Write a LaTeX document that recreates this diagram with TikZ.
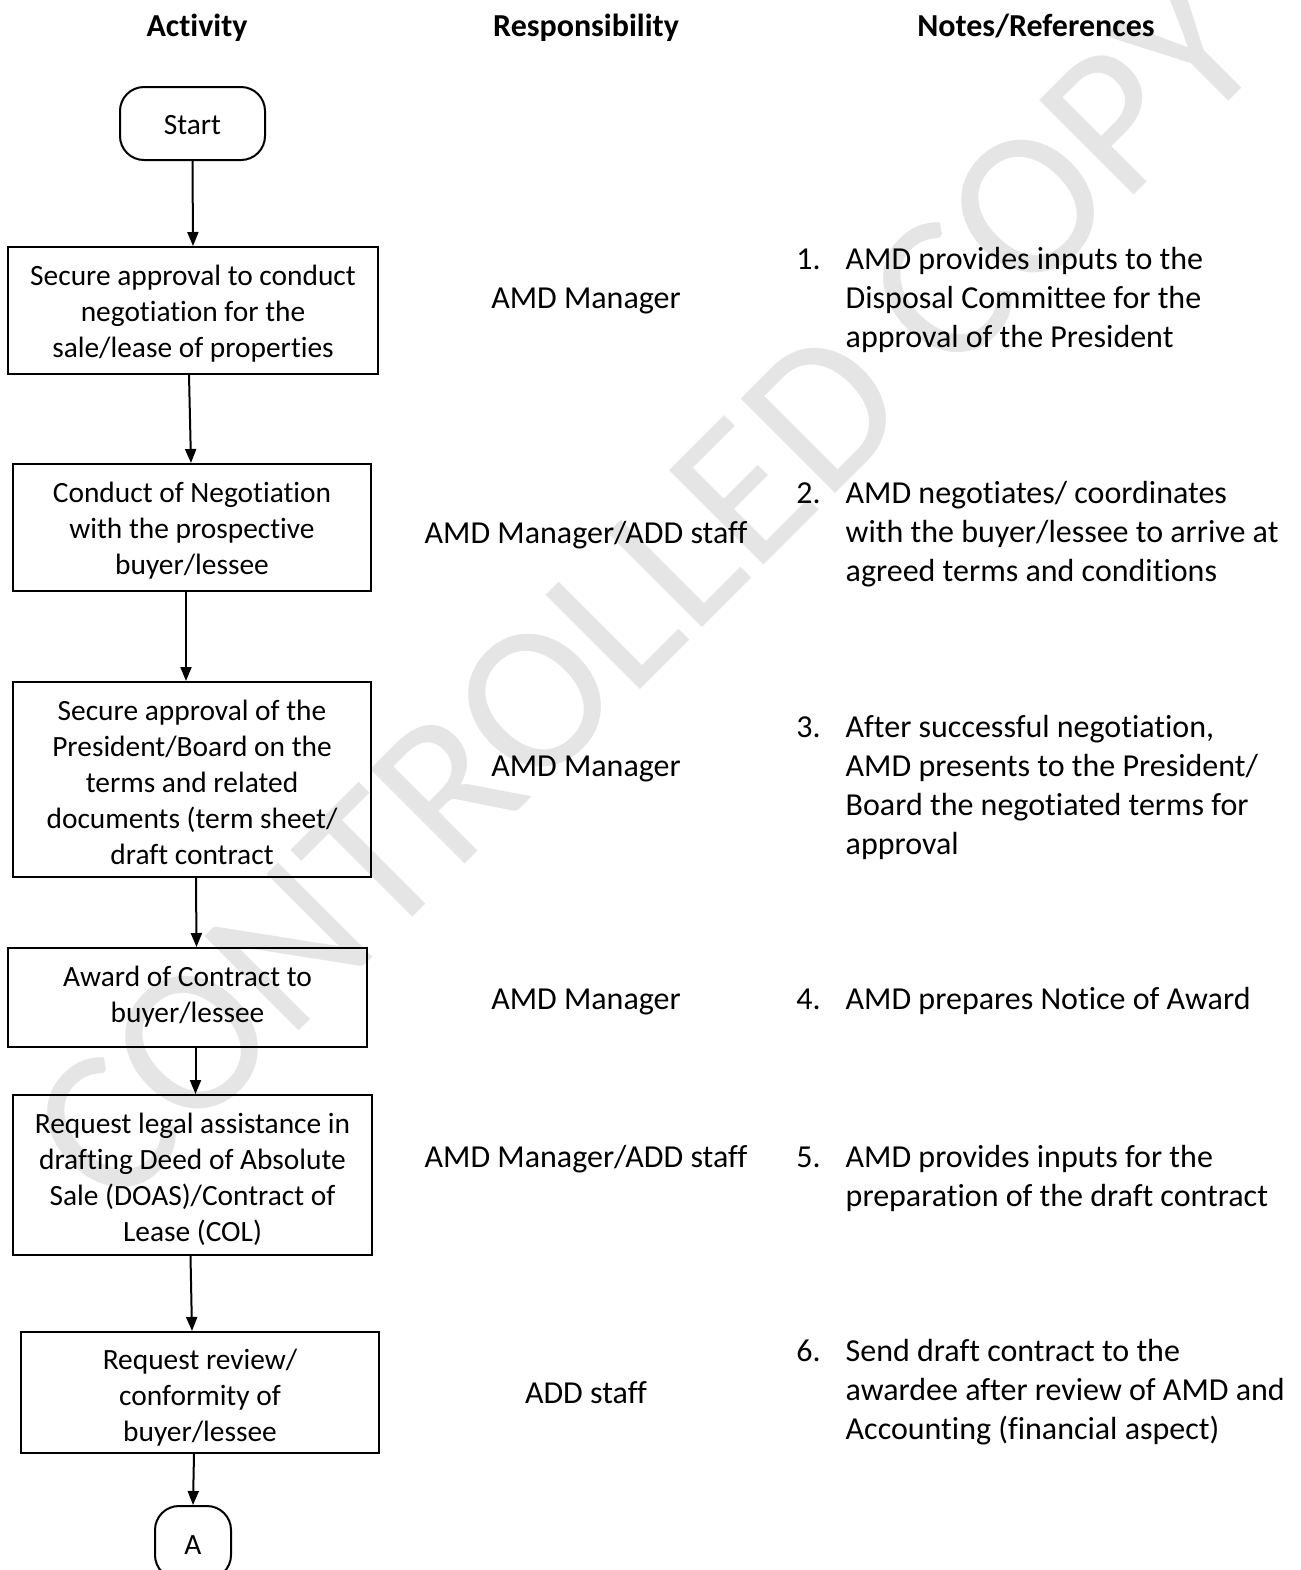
\documentclass[tikz,border=0pt]{standalone}
\usepackage{fontspec}
\setmainfont{Carlito}[Ligatures={NoCommon}]
\usetikzlibrary{arrows.meta}

\newcommand\boxfont{\fontsize{14.7}{18}\selectfont}
\newcommand\colfont{\fontsize{16}{19.5}\selectfont}

\tikzset{
  stepbox/.style={draw, line width=1pt, align=center, inner sep=0pt, font=\boxfont},
  terminal/.style={draw, line width=1pt, rounded corners=12pt, align=center, inner sep=0pt, font=\boxfont},
  flow/.style={line width=1pt, -{Triangle[width=5.5pt,length=7pt]}},
  header/.style={font=\colfont\bfseries, anchor=base},
  resp/.style={font=\colfont},
  note/.style={font=\colfont, anchor=west, inner sep=0pt},
}

% box text: strutted centred lines, lowered by #1 without changing the box size
\newcommand\bx[2][2pt]{\raisebox{-#1}[\height][\depth]{\begin{tabular}{@{}c@{}}#2\end{tabular}}}
% numbered note with hanging lines
\newcommand\notelist[2]{\begin{tabular}{@{}l@{\hspace{12.5pt}}l@{}}#1 & #2\end{tabular}}

\begin{document}
\begin{tikzpicture}[x=0.5pt, y=-0.5pt]
\useasboundingbox (0,0) rectangle (1301,1570);
\clip (0,0) rectangle (1301,1570);
\fill[white] (0,0) rectangle (1301,1570);

% watermark
\node[rotate=45, text=gray!20, font=\fontsize{104}{104}\selectfont, inner sep=0pt] (wm) at (645,590) {CONTROLLED COPY};

% column headings
\node[header] (hact) at (197,36) {Activity};
\node[header] (hresp) at (586,36) {Responsibility};
\node[header] (hnote) at (1036,36) {Notes/References};

% flow chart
\node[terminal, minimum width=72.5pt, minimum height=36.5pt] (start) at (192.5,123.5) {\raisebox{-1pt}[\height][\depth]{Start}};
\node[stepbox, minimum width=185pt, minimum height=63.5pt] (b1) at (193,310.5)
  {\bx[2pt]{Secure approval to conduct\\negotiation for the\\sale/lease of properties}};
\node[stepbox, minimum width=179pt, minimum height=63.5pt] (b2) at (192,527.5)
  {\bx[2pt]{Conduct of Negotiation\\with the prospective\\buyer/lessee}};
\node[stepbox, minimum width=179pt, minimum height=97.5pt] (b3) at (192,779.5)
  {\bx[3pt]{Secure approval of the\\President/Board on the\\terms and related\\documents (term sheet/\\draft contract}};
\node[stepbox, minimum width=179.5pt, minimum height=49.5pt] (b4) at (187.5,997.5)
  {\bx[0pt]{Award of Contract to\\buyer/lessee}};
\node[stepbox, minimum width=179.5pt, minimum height=80pt] (b5) at (192.5,1175)
  {\bx[2.5pt]{Request legal assistance in\\drafting Deed of Absolute\\Sale (DOAS)/Contract of\\Lease (COL)}};
\node[stepbox, minimum width=179pt, minimum height=60.5pt] (b6) at (200,1392.5)
  {\bx[3pt]{Request review/\\conformity of\\buyer/lessee}};
\node[terminal, minimum width=38pt, minimum height=36.5pt] (conA) at (193,1542.5) {\raisebox{-1.5pt}[\height][\depth]{A}};

\draw[flow] (start.south) -- (b1.north);
\draw[flow] ([xshift=-2pt]b1.south) -- ([xshift=-0.5pt]b2.north);
\draw[flow] ([xshift=-3pt]b2.south) -- ([xshift=-3pt]b3.north);
\draw[flow] ([xshift=2pt]b3.south) -- ([xshift=4.5pt]b4.north);
\draw[flow] ([xshift=4pt]b4.south) -- ([xshift=1.5pt]b5.north);
\draw[flow] ([xshift=-1pt]b5.south) -- ([xshift=-4pt]b6.north);
\draw[flow] ([xshift=-3pt]b6.south) -- (conA.north);

% responsibilities
\node[resp] (r1) at (586,301) {AMD Manager};
\node[resp] (r2) at (586,535) {AMD Manager/ADD staff};
\node[resp] (r3) at (586,769) {AMD Manager};
\node[resp] (r4) at (586,1002) {AMD Manager};
\node[resp] (r5) at (586,1159) {AMD Manager/ADD staff};
\node[resp] (r6) at (586,1393) {ADD staff};

% notes
\node[note] (n1) at (796,301) {\notelist{1.}{AMD provides inputs to the\\ & Disposal Committee for the\\ & approval of the President}};
\node[note] (n2) at (796,535) {\notelist{2.}{AMD negotiates/ coordinates\\ & with the buyer/lessee to arrive at\\ & agreed terms and conditions}};
\node[note] (n3) at (796,788.5) {\notelist{3.}{After successful negotiation,\\ & AMD presents to the President/\\ & Board the negotiated terms for\\ & approval}};
\node[note] (n4) at (796,1002) {\notelist{4.}{AMD prepares Notice of Award}};
\node[note] (n5) at (796,1179) {\notelist{5.}{AMD provides inputs for the\\ & preparation of the draft contract}};
\node[note] (n6) at (796,1393) {\notelist{6.}{Send draft contract to the\\ & awardee after review of AMD and\\ & Accounting (financial aspect)}};
\end{tikzpicture}
\end{document}
